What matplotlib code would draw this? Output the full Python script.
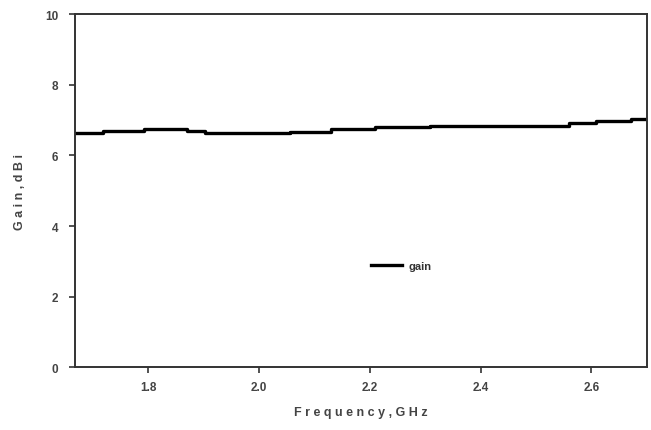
import matplotlib
matplotlib.use("Agg")
import matplotlib.pyplot as plt

plt.rcParams['font.family'] = ['Liberation Sans', 'DejaVu Sans']

# Data (stepped gain curve)
freq = [1.668, 1.718, 1.792, 1.870, 1.903, 2.057, 2.131, 2.209, 2.308, 2.560, 2.608, 2.671, 2.700]
gain = [6.64, 6.69, 6.75, 6.69, 6.64, 6.67, 6.74, 6.81, 6.84, 6.91, 6.99, 7.04, 7.04]
xticks = [1.8, 2.0, 2.2, 2.4, 2.6]
xticklabels = ["1.8", "2.0", "2.2", "2.4", "2.6"]
yticks = [0, 2, 4, 6, 8, 10]
yticklabels = ["0", "2", "4", "6", "8", "10"]

fig = plt.figure(figsize=(6.51, 4.31), dpi=100)
ax = fig.add_axes([0.1152, 0.1455, 0.9934 - 0.1152, 0.9645 - 0.1455])

ax.plot(freq, gain, drawstyle='steps-post', color='black', lw=2.4, label='gain')

ax.set_xlim(1.668, 2.7)
ax.set_ylim(0, 10)
ax.set_xticks(xticks)
ax.set_xticklabels(xticklabels)
ax.set_yticks(yticks)
ax.set_yticklabels(yticklabels)

for s in ax.spines.values():
    s.set_linewidth(1.4)
    s.set_color('#333333')
ax.tick_params(direction='out', length=4, width=1.2, colors='#333333',
               labelsize=8.5, labelcolor='#444444')
ax.tick_params(axis='x', pad=6)
ax.tick_params(axis='y', pad=8)
for lab in ax.get_xticklabels() + ax.get_yticklabels():
    lab.set_fontweight('bold')

ax.set_xlabel('F r e q u e n c y , G H z', fontsize=9, color='#444444',
              fontweight='bold', labelpad=9)
ax.set_ylabel('G a i n , d B i', fontsize=9, color='#444444',
              fontweight='bold', labelpad=14)

leg = ax.legend(loc='center left', bbox_to_anchor=(0.5, 0.287), frameon=False,
                handlelength=2.8, fontsize=8, handletextpad=0.6)
for t in leg.get_texts():
    t.set_color('#333333')
    t.set_fontweight('bold')

fig.savefig('out.png', dpi=100)
